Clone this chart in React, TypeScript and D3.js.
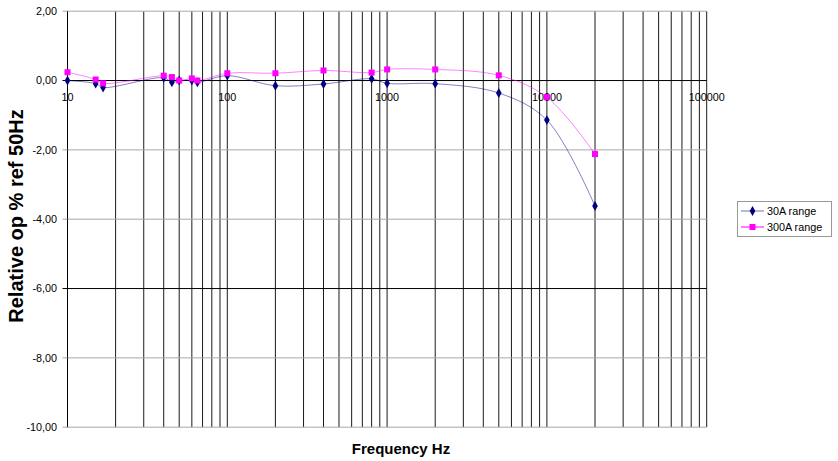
import * as d3 from "d3";

const freqs = [10, 15, 16.7, 40, 45, 50, 60, 65, 100, 200, 400, 800, 1000, 2000, 5000, 10000, 20000];
const range30A = [0, -0.09, -0.2, 0.08, -0.05, 0, 0, -0.05, 0.14, -0.15, -0.1, 0.05, -0.08, -0.09, -0.36, -1.14, -3.62];
const range300A = [0.24, 0.03, -0.08, 0.14, 0.1, 0, 0.06, 0, 0.21, 0.21, 0.29, 0.23, 0.32, 0.32, 0.15, -0.48, -2.12];
const yTicks = [2, 0, -2, -4, -6, -8, -10];
const xLabels = [10, 100, 1000, 10000, 100000];
const seriesNames = ["30A range", "300A range"];

const W = 838;
const H = 461;
const font = "'Liberation Sans', Arial, sans-serif";

export default function App() {
  const x = d3.scaleLog().domain([10, 100000]).range([67.5, 706.7]);
  const y = d3.scaleLinear().domain([-10, 2]).range([427.2, 11.2]);

  const line = d3
    .line<number>()
    .x((_, i) => x(freqs[i]))
    .y((d) => y(d))
    .curve(d3.curveCatmullRom.alpha(0.5));

  const fmt = (v: number) => v.toFixed(2).replace(".", ",");
  const diamond = d3.symbol(d3.symbolDiamond, 28)();

  // gridline shade differs a bit in the original (antialiased export)
  const hColor = (t: number) => (t === 0 || t === -6 ? "#000" : "#a8a8a8");

  return (
    <div style={{ position: "absolute", left: 0, top: 0 }}>
      <svg width={W} height={H} style={{ display: "block", background: "#fff" }}>
        {/* vertical grid */}
        {x.ticks().map((t) => (
          <line key={"v" + t} x1={x(t)} x2={x(t)} y1={y(2)} y2={y(-10)} stroke="#000" strokeWidth={0.9} />
        ))}
        {/* horizontal grid */}
        {yTicks.map((t) => (
          <line key={"h" + t} x1={x(10)} x2={x(100000)} y1={y(t)} y2={y(t)} stroke={hColor(t)} strokeWidth={1} />
        ))}
        {/* y axis */}
        <line x1={x(10)} x2={x(10)} y1={y(2)} y2={y(-10)} stroke="#000" />
        {yTicks.map((t) => (
          <g key={"yt" + t}>
            <line x1={x(10) - 5} x2={x(10)} y1={y(t)} y2={y(t)} stroke={hColor(t)} />
            <text x={57} y={y(t) + 3.8} textAnchor="end" fontFamily={font} fontSize={10.8} fill="#000">
              {fmt(t)}
            </text>
          </g>
        ))}
        {xLabels.map((t) => (
          <text key={"xl" + t} x={x(t)} y={y(0) + 20} textAnchor="middle" fontFamily={font} fontSize={10.8} fill="#000">
            {t}
          </text>
        ))}

        {/* series */}
        <path d={line(range30A) ?? ""} fill="none" stroke="#000080" strokeWidth={0.7} strokeOpacity={0.7} />
        <path d={line(range300A) ?? ""} fill="none" stroke="#ff00ff" strokeWidth={0.7} strokeOpacity={0.7} />
        {range30A.map((v, i) => (
          <path key={"d" + i} d={diamond ?? ""} transform={`translate(${x(freqs[i])},${y(v)})`} fill="#000080" />
        ))}
        {range300A.map((v, i) => (
          <rect key={"s" + i} x={x(freqs[i]) - 3} y={y(v) - 3} width={6} height={6} fill="#ff00ff" />
        ))}

        {/* titles */}
        <text x={401} y={454} textAnchor="middle" fontFamily={font} fontSize={15} fontWeight="bold" fill="#000">
          Frequency Hz
        </text>
        <text
          transform={`translate(23,216) rotate(-90)`}
          textAnchor="middle"
          fontFamily={font}
          fontSize={20}
          fontWeight="bold"
          fill="#000"
        >
          Relative op % ref 50Hz
        </text>

        {/* legend */}
        <rect x={737.5} y={201.5} width={94} height={35} fill="#fff" stroke="#999" />
        {seriesNames.map((name, i) => {
          const ly = 211 + i * 16;
          return (
            <g key={name}>
              <line x1={741} x2={764} y1={ly} y2={ly} stroke={i === 0 ? "#7070c0" : "#ff00ff"} strokeWidth={1} />
              {i === 0 ? (
                <path d={diamond ?? ""} transform={`translate(752.5,${ly})`} fill="#000080" />
              ) : (
                <rect x={749.5} y={ly - 3} width={6} height={6} fill="#ff00ff" />
              )}
              <text x={767} y={ly + 4} fontFamily={font} fontSize={10.8} fill="#000">
                {name}
              </text>
            </g>
          );
        })}
      </svg>
    </div>
  );
}
